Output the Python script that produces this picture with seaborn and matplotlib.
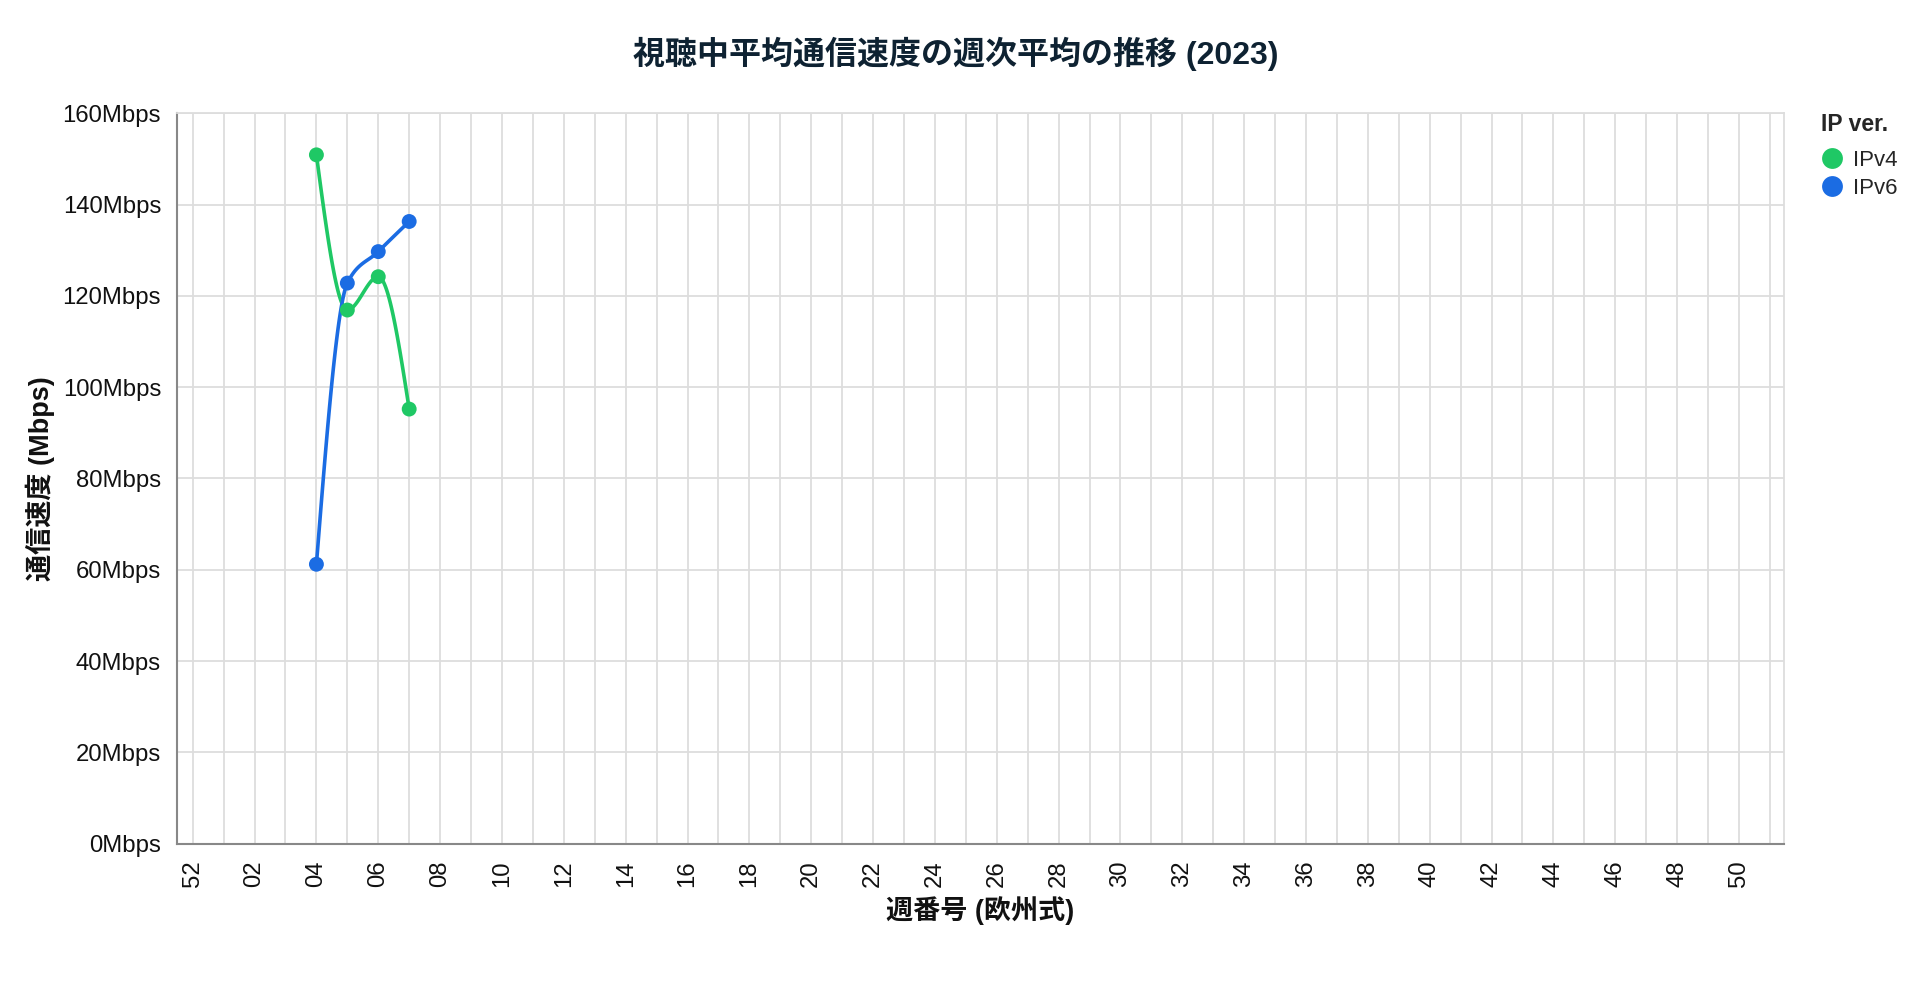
import numpy as np
import pandas as pd
import seaborn as sns
import matplotlib.pyplot as plt
from matplotlib.lines import Line2D

# week tick labels (ISO week numbers, European style): 52 of 2022, then 01..51 of 2023
week_order = ["52"] + [f"{i:02d}" for i in range(1, 52)]

# weekly average speed while viewing (Mbps)
weeks = ["04", "05", "06", "07"]
ipv4_speed = [150.9, 116.9, 124.2, 95.2]
ipv6_speed = [61.2, 122.8, 129.7, 136.3]

ip_versions = ["IPv4", "IPv6"]
colors = {"IPv4": "#1fc865", "IPv6": "#1b6ce3"}

y_ticks = [0, 20, 40, 60, 80, 100, 120, 140, 160]


def monotone_curve(x, y, steps=40):
    # same as d3 curveMonotoneX, so the line bends like the original
    x = np.asarray(x, float)
    y = np.asarray(y, float)
    h = np.diff(x)
    s = np.diff(y) / h
    n = len(x)
    t = np.zeros(n)
    sgn = lambda v: -1.0 if v < 0 else 1.0
    for i in range(1, n - 1):
        p = (s[i - 1] * h[i] + s[i] * h[i - 1]) / (h[i - 1] + h[i])
        t[i] = (sgn(s[i - 1]) + sgn(s[i])) * min(abs(s[i - 1]), abs(s[i]), 0.5 * abs(p))
    t[0] = (3 * s[0] - t[1]) / 2 if n > 2 else s[0]
    t[-1] = (3 * s[-1] - t[-2]) / 2 if n > 2 else s[-1]
    xs, ys = [], []
    for i in range(n - 1):
        u = np.linspace(0, 1, steps, endpoint=(i == n - 2))
        h00 = 2 * u**3 - 3 * u**2 + 1
        h10 = u**3 - 2 * u**2 + u
        h01 = -2 * u**3 + 3 * u**2
        h11 = u**3 - u**2
        xs.append(x[i] + u * h[i])
        ys.append(h00 * y[i] + h10 * h[i] * t[i] + h01 * y[i + 1] + h11 * h[i] * t[i + 1])
    return np.concatenate(xs), np.concatenate(ys)


def main():
    sns.set_style("white")
    plt.rcParams["font.family"] = ["Liberation Sans", "Noto Sans CJK JP", "DejaVu Sans"]

    pos = [week_order.index(w) for w in weeks]
    df = pd.DataFrame({
        "week_pos": pos * 2,
        "speed": ipv4_speed + ipv6_speed,
        "ip": ["IPv4"] * len(weeks) + ["IPv6"] * len(weeks),
    })

    # smooth curve per series
    curves = []
    for ip in ip_versions:
        sub = df[df["ip"] == ip]
        cx, cy = monotone_curve(sub["week_pos"], sub["speed"])
        curves.append(pd.DataFrame({"week_pos": cx, "speed": cy, "ip": ip}))
    curve_df = pd.concat(curves, ignore_index=True)

    fig = plt.figure(figsize=(19.2, 10), dpi=100)
    ax = fig.add_axes([0.0920, 0.1564, 0.8372, 0.7303])

    sns.lineplot(data=curve_df, x="week_pos", y="speed", hue="ip", palette=colors,
                 sort=False, estimator=None, linewidth=2.6, legend=False, ax=ax, zorder=3)
    sns.scatterplot(data=df, x="week_pos", y="speed", hue="ip", palette=colors,
                    s=115, linewidth=0, legend=False, ax=ax, zorder=4)

    ax.set_xlim(-0.52, 51.46)
    ax.set_ylim(0, 160)

    ax.set_xticks(range(len(week_order)))
    ax.set_xticklabels([w if i % 2 == 0 else "" for i, w in enumerate(week_order)],
                       rotation=90, fontsize=17.2)
    ax.set_yticks(y_ticks)
    ax.set_yticklabels([f"{v}Mbps" for v in y_ticks], fontsize=17.2)
    ax.tick_params(axis="both", length=7.2, width=1.5, color="#888888", pad=4, labelcolor="#111111")
    ax.tick_params(axis="x", pad=5)

    ax.grid(True, color="#dddddd", linewidth=1.3)
    ax.set_axisbelow(True)
    for side in ["left", "bottom"]:
        ax.spines[side].set_color("#888888")
        ax.spines[side].set_linewidth(1.5)
    for side in ["top", "right"]:
        ax.spines[side].set_color("#dddddd")
        ax.spines[side].set_linewidth(1.3)

    ax.set_xlabel("週番号 (欧州式)", fontsize=19.5, fontweight="bold", color="#111111")
    ax.xaxis.set_label_coords(0.5, -0.092)
    ax.xaxis.label.set_va("center")
    ax.set_ylabel("通信速度 (Mbps)", fontsize=19.5, fontweight="bold", color="#111111")
    ax.yaxis.set_label_coords(-0.085, 0.5)
    ax.yaxis.label.set_va("center")

    fig.text(0.498, 0.946, "視聴中平均通信速度の週次平均の推移 (2023)", ha="center", va="center",
             fontsize=23, fontweight="bold", color="#0e2232")

    handles = [Line2D([], [], marker="o", linestyle="", markersize=15,
                      markerfacecolor=colors[ip], markeredgewidth=0) for ip in ip_versions]
    leg = fig.legend(handles, ip_versions, title="IP ver.", loc="upper left",
                     bbox_to_anchor=(1821 / 1920, 1 - 113 / 1000), frameon=False,
                     fontsize=16, title_fontproperties={"weight": "bold", "size": 16.5},
                     handlelength=1.0, handletextpad=0.45, labelspacing=0.3,
                     borderpad=0, borderaxespad=0, alignment="left")
    leg._legend_box.sep = 10

    plt.savefig("out.png", dpi=100)


if __name__ == "__main__":
    main()
